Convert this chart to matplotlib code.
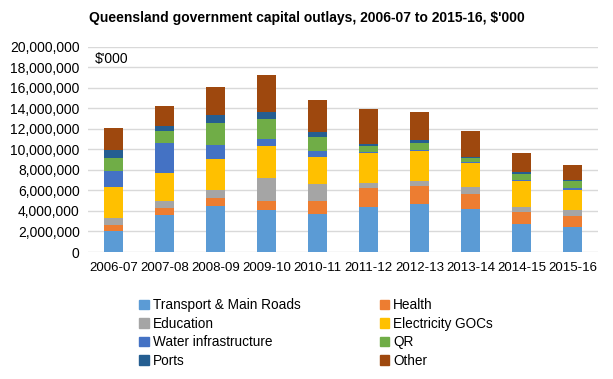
import matplotlib
matplotlib.use("Agg")
import matplotlib.pyplot as plt
import numpy as np
from matplotlib.ticker import FuncFormatter
from matplotlib.patches import Patch

years = ["2006-07", "2007-08", "2008-09", "2009-10", "2010-11",
         "2011-12", "2012-13", "2013-14", "2014-15", "2015-16"]

transport = [2050000, 3600000, 4510000, 4090000, 3700000, 4380000, 4710000, 4190000, 2760000, 2440000]
health = [580000, 680000, 780000, 880000, 1270000, 1850000, 1720000, 1490000, 1140000, 1070000]
education = [710000, 680000, 750000, 2240000, 1660000, 490000, 490000, 650000, 490000, 580000]
electricity = [3020000, 2730000, 3020000, 3120000, 2630000, 2920000, 2920000, 2340000, 2530000, 1950000]
water = [1530000, 2920000, 1360000, 680000, 580000, 100000, 130000, 130000, 100000, 190000]
qr = [1270000, 1170000, 2140000, 1950000, 1360000, 580000, 650000, 390000, 580000, 680000]
ports = [810000, 490000, 780000, 710000, 520000, 230000, 320000, 60000, 230000, 100000]
other = [2110000, 1950000, 2730000, 3570000, 3080000, 3380000, 2690000, 2530000, 1820000, 1460000]

series_names = ["Transport & Main Roads", "Health", "Education", "Electricity GOCs",
                "Water infrastructure", "QR", "Ports", "Other"]
series_values = [transport, health, education, electricity, water, qr, ports, other]
colors = ["#5B9BD5", "#ED7D31", "#A5A5A5", "#FFC000", "#4472C4", "#70AD47", "#255E91", "#9E480E"]

plt.rcParams['font.family'] = ['Liberation Sans', 'DejaVu Sans']

fig = plt.figure(figsize=(6.13, 3.79), dpi=100)
ax = fig.add_axes([88/613, 1-252/379, 510/613, (252-46.7)/379])

x = np.arange(len(years))
bottom = np.zeros(len(years))
for name, vals, c in zip(series_names, series_values, colors):
    ax.bar(x, vals, width=0.39, bottom=bottom, color=c, label=name, zorder=3)
    bottom += np.array(vals)

ax.set_ylim(0, 20000000)
ax.set_xlim(-0.5, len(years) - 0.5)
ax.set_yticks(np.arange(0, 20000001, 2000000))
ax.yaxis.set_major_formatter(FuncFormatter(lambda v, p: f"{int(v):,}"))
ax.set_xticks(x)
ax.set_xticklabels(years)
ax.tick_params(axis='both', length=0, colors="#000000")
ax.tick_params(axis='y', pad=6, labelsize=10)
ax.tick_params(axis='x', pad=7, labelsize=9.5)
ax.grid(axis='y', color="#D9D9D9", linewidth=1, zorder=0)
for s in ax.spines.values():
    s.set_visible(False)

ax.text(0.013, 0.94, "$'000", transform=ax.transAxes, fontsize=10, va='center', ha='left')

fig.text(0.5, 1-18/379, "Queensland government capital outlays, 2006-07 to 2015-16, $'000",
         ha='center', va='center', fontsize=10, fontweight='bold')

order = [0, 2, 4, 6, 1, 3, 5, 7]
handles = [Patch(color=colors[i]) for i in order]
labels = [series_names[i] for i in order]
fig.legend(handles, labels, ncol=2, loc='upper left', bbox_to_anchor=(134/613, 1-293/379),
           frameon=False, fontsize=9.8, handlelength=0.7, handleheight=0.7, handletextpad=0.3,
           columnspacing=5.8, labelspacing=0.33, borderaxespad=0)

fig.savefig("out.png", dpi=100)
